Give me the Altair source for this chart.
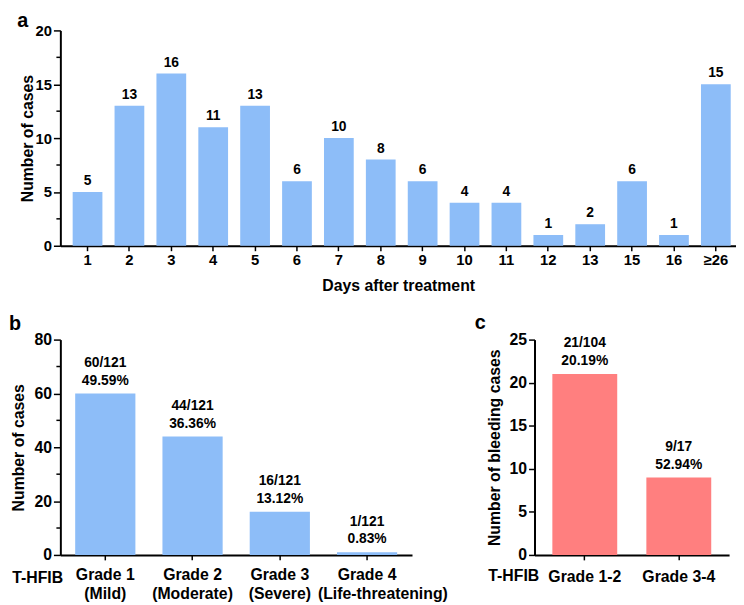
import altair as alt
import pandas as pd

# ---- data ----
days = ["1", "2", "3", "4", "5", "6", "7", "8", "9", "10", "11", "12", "13", "15", "16", "≥26"]
day_counts = [5, 13, 16, 11, 13, 6, 10, 8, 6, 4, 4, 1, 2, 6, 1, 15]
a_major = [0, 5, 10, 15, 20]
a_minor = [2.5, 7.5, 12.5, 17.5]

grade_names = ["Grade 1", "Grade 2", "Grade 3", "Grade 4"]
grade_desc = ["(Mild)", "(Moderate)", "(Severe)", "(Life-threatening)"]
grade_counts = [60, 44, 16, 1]
grade_frac = ["60/121", "44/121", "16/121", "1/121"]
grade_pct = ["49.59%", "36.36%", "13.12%", "0.83%"]
b_major = [0, 20, 40, 60, 80]
b_minor = [10, 30, 50, 70]

bleed_groups = ["Grade 1-2", "Grade 3-4"]
bleed_counts = [21, 9]
bleed_frac = ["21/104", "9/17"]
bleed_pct = ["20.19%", "52.94%"]
c_major = [0, 5, 10, 15, 20, 25]

BLUE = "#8DBDF8"
RED = "#FF7F7F"
FONT = "Liberation Sans"

df_a = pd.DataFrame({"day": days, "n": day_counts})
df_b = pd.DataFrame({"grade": grade_names, "desc": grade_desc, "n": grade_counts,
                     "frac": grade_frac, "pct": grade_pct})
df_c = pd.DataFrame({"grp": bleed_groups, "n": bleed_counts, "frac": bleed_frac, "pct": bleed_pct})


def letter(t, x, y, baseline="alphabetic"):
    return alt.Chart(pd.DataFrame({"t": [t]})).mark_text(
        font=FONT, fontSize=20, fontWeight="bold", align="center", baseline=baseline, color="black"
    ).encode(text="t:N", x=alt.value(x), y=alt.value(y))


def side_text(t, x, y):
    return alt.Chart(pd.DataFrame({"t": [t]})).mark_text(
        font=FONT, fontSize=16, fontWeight="bold", align="center", baseline="middle", color="black"
    ).encode(text="t:N", x=alt.value(x), y=alt.value(y))


def minor_ticks(vals, yenc, length=4):
    return alt.Chart(pd.DataFrame({"n": vals})).mark_rule(color="black", strokeWidth=1.5).encode(
        y=yenc, x=alt.value(-length), x2=alt.value(0))


# ---- panel a ----
xa = alt.X("day:N", sort=days, title="Days after treatment",
           scale=alt.Scale(paddingInner=0.29, paddingOuter=0.21, align=0.7),
           axis=alt.Axis(labelAngle=0, labelFontSize=15, titleFontSize=16, titlePadding=10,
                         labelPadding=2, tickSize=5))
ya = alt.Y("n:Q", title="Number of cases", scale=alt.Scale(domain=[0, 20], nice=False),
           axis=alt.Axis(values=a_major, labelFontSize=15, titleFontSize=16, titlePadding=0,
                         tickSize=7, labelPadding=2))
base_a = alt.Chart(df_a).encode(x=xa, y=ya)
bars_a = base_a.mark_bar(color=BLUE)
txt_a = base_a.mark_text(font=FONT, fontSize=14, fontWeight="bold", baseline="middle", dy=-11,
                         color="black").encode(text="n:Q")
chart_a = alt.layer(bars_a, txt_a, minor_ticks(a_minor, ya), letter("a", -38, -19, "top")
                    ).properties(width=684, height=218)

# ---- panel b ----
xb = alt.X("grade:N", sort=grade_names, title=None,
           scale=alt.Scale(paddingInner=0.31, paddingOuter=0.17),
           axis=alt.Axis(labelAngle=0, labelFontSize=16, labelPadding=7, tickSize=5))
yb = alt.Y("n:Q", title="Number of cases", scale=alt.Scale(domain=[0, 80], nice=False),
           axis=alt.Axis(values=b_major, labelFontSize=16, titleFontSize=16, titlePadding=7,
                         tickSize=7, labelPadding=2))
base_b = alt.Chart(df_b).encode(x=xb, y=yb)
bars_b = base_b.mark_bar(color=BLUE)
txt_b1 = base_b.mark_text(font=FONT, fontSize=14, fontWeight="bold", baseline="middle", dy=-31,
                          color="black").encode(text="frac:N")
txt_b2 = base_b.mark_text(font=FONT, fontSize=14, fontWeight="bold", baseline="middle", dy=-13,
                          color="black").encode(text="pct:N")
desc_style = dict(font=FONT, fontSize=16, fontWeight="bold", baseline="middle", color="black")
desc_1 = alt.Chart(df_b).transform_filter("datum.grade != 'Grade 4'").mark_text(**desc_style).encode(
    x=xb, text="desc:N", y=alt.value(258))
desc_2 = alt.Chart(df_b).transform_filter("datum.grade == 'Grade 4'").mark_text(dx=16, **desc_style).encode(
    x=xb, text="desc:N", y=alt.value(258))
chart_b = alt.layer(bars_b, txt_b1, txt_b2, minor_ticks(b_minor, yb), desc_1, desc_2,
                    letter("b", -46, -10), side_text("T-HFIB", -23, 241)
                    ).properties(width=356, height=218)

# ---- panel c ----
xc = alt.X("grp:N", sort=bleed_groups, title=None,
           scale=alt.Scale(paddingInner=0.31, paddingOuter=0.19),
           axis=alt.Axis(labelAngle=0, labelFontSize=16, labelPadding=9, tickSize=5))
yc = alt.Y("n:Q", title="Number of bleeding cases", scale=alt.Scale(domain=[0, 25], nice=False),
           axis=alt.Axis(values=c_major, labelFontSize=16, titleFontSize=16,
                         titlePadding=7, tickSize=6, labelPadding=2))
base_c = alt.Chart(df_c).encode(x=xc, y=yc)
bars_c = base_c.mark_bar(color=RED)
txt_c1 = base_c.mark_text(font=FONT, fontSize=14, fontWeight="bold", baseline="middle", dy=-31,
                          color="black").encode(text="frac:N")
txt_c2 = base_c.mark_text(font=FONT, fontSize=14, fontWeight="bold", baseline="middle", dy=-13,
                          color="black").encode(text="pct:N")
chart_c = alt.layer(bars_c, txt_c1, txt_c2, letter("c", -55, -11), side_text("T-HFIB", -21, 239)
                    ).properties(width=197, height=218)

bottom = alt.hconcat(chart_b, chart_c, spacing=26)
chart = alt.vconcat(chart_a, bottom, spacing=20).properties(
    padding=0
).configure_view(
    stroke=None
).configure_axis(
    grid=False, labelFont=FONT, titleFont=FONT, labelFontWeight="bold", titleFontWeight="bold",
    labelColor="black", titleColor="black", domainColor="black", tickColor="black",
    domainWidth=2, tickWidth=1.5
)

chart.save("out.html", embed_options={"renderer": "svg", "actions": False})
